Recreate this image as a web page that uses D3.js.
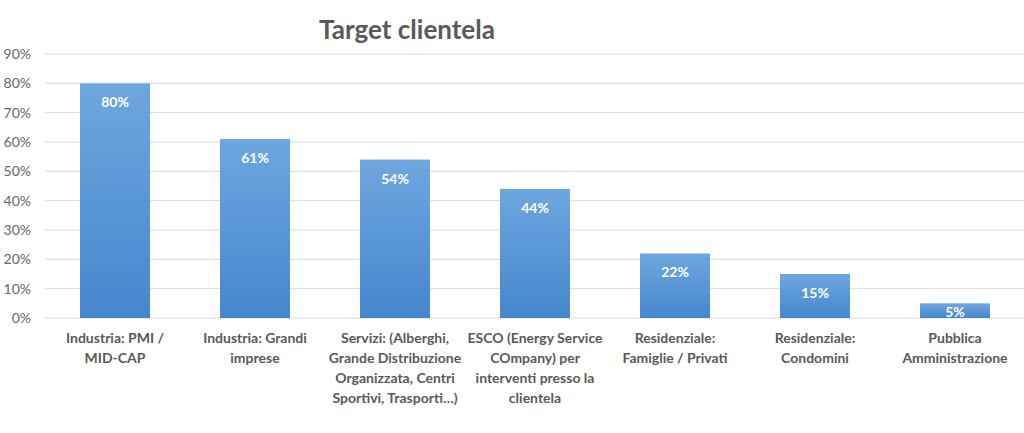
<!DOCTYPE html>
<html><head><meta charset="utf-8">
<script src="https://cdn.jsdelivr.net/npm/d3@7"></script>
<style>body{margin:0;background:#fff}svg{display:block}</style>
</head><body><svg id="c" width="1024" height="433"></svg>
<script>
const title = "Target clientela";
const categories = [
  ["Industria: PMI /", "MID-CAP"],
  ["Industria: Grandi", "imprese"],
  ["Servizi: (Alberghi,", "Grande Distribuzione", "Organizzata, Centri", "Sportivi, Trasporti…)"],
  ["ESCO (Energy Service", "COmpany) per", "interventi presso la", "clientela"],
  ["Residenziale:", "Famiglie / Privati"],
  ["Residenziale:", "Condomini"],
  ["Pubblica", "Amministrazione"]
];
const values = [80, 61, 54, 44, 22, 15, 5];
const yTicks = [0, 10, 20, 30, 40, 50, 60, 70, 80, 90];

const svg = d3.select("#c");
const font = "Lato, 'Open Sans', sans-serif";
const pLeft = 45, pRight = 1025, pTop = 54, pBottom = 318;

const defs = svg.append("defs");
const g = defs.append("linearGradient").attr("id","bg").attr("x1",0).attr("y1",0).attr("x2",0).attr("y2",1);
g.append("stop").attr("offset","0%").attr("stop-color","#6ea7df");
g.append("stop").attr("offset","100%").attr("stop-color","#4586cd");

const x = d3.scaleBand().domain(d3.range(values.length)).range([pLeft, pRight]).paddingInner(0.5).paddingOuter(0.25);
const y = d3.scaleLinear().domain([0, 90]).range([pBottom, pTop]);

// grid
svg.append("g").selectAll("line").data(yTicks).join("line")
  .attr("x1", pLeft).attr("x2", 1024)
  .attr("y1", d => y(d)).attr("y2", d => y(d))
  .attr("stroke", "#d9d9d9").attr("stroke-width", 1);

// y labels
svg.append("g").selectAll("text").data(yTicks).join("text")
  .attr("x", 31).attr("y", d => y(d)).attr("dy", "0.35em")
  .attr("text-anchor", "end").attr("fill", "#666")
  .attr("font-family", font).attr("font-size", 14)
  .text(d => d + "%");

// bars
svg.append("g").selectAll("rect").data(values).join("rect")
  .attr("x", (d,i) => x(i)).attr("width", x.bandwidth())
  .attr("y", d => y(d)).attr("height", d => y(0) - y(d))
  .attr("fill", "url(#bg)");

// value labels
svg.append("g").selectAll("text").data(values).join("text")
  .attr("x", (d,i) => x(i) + x.bandwidth()/2)
  .attr("y", d => Math.min(y(d) + 19, y(0) - 6)).attr("dy", "0.35em")
  .attr("text-anchor", "middle").attr("fill", "#fff")
  .attr("font-family", font).attr("font-weight", "bold").attr("font-size", 14)
  .text(d => d + "%");

// category labels
const cl = svg.append("g").selectAll("text").data(categories).join("text")
  .attr("text-anchor", "middle").attr("fill", "#595959")
  .attr("font-family", font).attr("font-weight", "bold").attr("font-size", 14);
cl.selectAll("tspan").data((d,i) => d.map(l => ({l, i}))).join("tspan")
  .attr("x", d => x(d.i) + x.bandwidth()/2)
  .attr("y", (d,j) => 343 + j*20)
  .text(d => d.l);

// title
svg.append("text").attr("x", 407).attr("y", 39)
  .attr("text-anchor", "middle").attr("fill", "#595959")
  .attr("font-family", font).attr("font-weight", "bold").attr("font-size", 26)
  .text(title);
</script></body></html>
